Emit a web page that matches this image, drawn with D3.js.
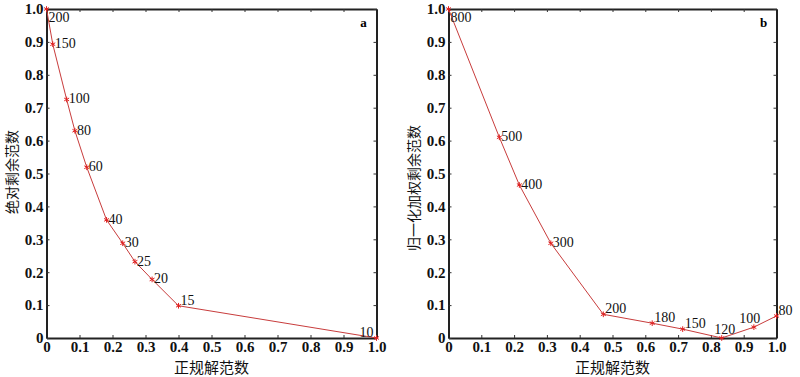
<!DOCTYPE html>
<html lang="zh">
<head>
<meta charset="utf-8">
<title>L-curve</title>
<script src="https://d3js.org/d3.v7.min.js"></script>
<style>
  body { margin: 0; background: #fff; }
</style>
</head>
<body>
<div id="chart"></div>
<script>
// panel a: 绝对剩余范数 vs 正规解范数
const aX = [0, 0.019, 0.061, 0.086, 0.122, 0.182, 0.231, 0.268, 0.32, 0.40, 1.0];
const aY = [1.0, 0.893, 0.725, 0.63, 0.519, 0.359, 0.288, 0.232, 0.178, 0.098, 0.0];
const aLabels = ["200", "150", "100", "80", "60", "40", "30", "25", "20", "15", "10"];
const aPlace = ["below", "right", "right", "right", "right", "right", "right", "right", "right", "up", "left"];

// panel b: 归一化加权剩余范数 vs 正规解范数
const bX = [0, 0.155, 0.216, 0.312, 0.472, 0.621, 0.714, 0.833, 0.931, 1.0];
const bY = [1.0, 0.61, 0.465, 0.288, 0.072, 0.045, 0.027, 0.0, 0.033, 0.067];
const bLabels = ["800", "500", "400", "300", "200", "180", "150", "120", "100", "80"];
const bPlace = ["below", "right", "right", "right", "up", "up", "up", "upc", "upl", "up"];

const ticks = [0, 0.1, 0.2, 0.3, 0.4, 0.5, 0.6, 0.7, 0.8, 0.9, 1.0];
const fmt = d => d === 0 ? "0" : d3.format(".1f")(d);

const W = 800, H = 377;
const serif = "'Liberation Serif', 'DejaVu Serif', serif";
const svg = d3.select("#chart").append("svg").attr("width", W).attr("height", H);

function panel(xs, ys, labels, place, left, right, yTitle, yMid, letter) {
  const x = d3.scaleLinear().domain([0, 1]).range([left, right]);
  const y = d3.scaleLinear().domain([0, 1]).range([338, 9]);
  const g = svg.append("g");

  // inward ticks on all four sides
  g.append("g").attr("transform", "translate(0,338)")
    .call(d3.axisBottom(x).tickValues(ticks).tickFormat(fmt).tickSizeInner(-3).tickSizeOuter(0).tickPadding(3));
  g.append("g").attr("transform", `translate(${left},0)`)
    .call(d3.axisLeft(y).tickValues(ticks).tickFormat(fmt).tickSizeInner(-3).tickSizeOuter(0).tickPadding(3));
  g.append("g").attr("transform", "translate(0,9)")
    .call(d3.axisTop(x).tickValues(ticks).tickFormat("").tickSizeInner(-3).tickSizeOuter(0));
  g.append("g").attr("transform", `translate(${right},0)`)
    .call(d3.axisRight(y).tickValues(ticks).tickFormat("").tickSizeInner(-3).tickSizeOuter(0));
  g.selectAll(".domain").attr("stroke", "#222").attr("stroke-width", 2);
  g.selectAll(".tick line").attr("stroke", "#333");
  g.selectAll(".tick text")
    .style("font-family", serif).style("font-weight", "bold").style("font-size", "15px").attr("fill", "#111");

  const pts = xs.map((v, i) => [v, ys[i]]);
  g.append("path").datum(pts)
    .attr("fill", "none").attr("stroke", "#c83c3c").attr("stroke-width", 1)
    .attr("d", d3.line().x(d => x(d[0])).y(d => y(d[1])));

  g.selectAll(".mk").data(pts).join("path")
    .attr("transform", d => `translate(${x(d[0])},${y(d[1])})`)
    .attr("d", d3.symbol(d3.symbolAsterisk, 22))
    .attr("fill", "none").attr("stroke", "#e02020").attr("stroke-width", 1);

  g.selectAll(".pt-label").data(pts).join("text")
    .attr("class", "pt-label")
    .style("font-family", serif).style("font-size", "14px").attr("fill", "#111")
    .attr("x", (d, i) => {
      const p = place[i], px = x(d[0]);
      if (p === "left") return px - 3;
      if (p === "upc") return px + 3;
      if (p === "upl") return px - 4;
      return px + 2;
    })
    .attr("y", (d, i) => {
      const p = place[i], py = y(d[1]);
      if (p === "below") return py + 13;
      if (p === "right") return py + 4;
      if (p === "upc" || p === "upl") return py - 4;
      return py - 1;
    })
    .attr("text-anchor", (d, i) => place[i] === "left" ? "end" : (place[i] === "upc" || place[i] === "upl") ? "middle" : "start")
    .text((d, i) => labels[i]);

  g.append("text")
    .style("font-family", "'Noto Sans CJK SC', sans-serif").style("font-size", "15px").attr("fill", "#111")
    .attr("x", (left + right) / 2).attr("y", 373).attr("text-anchor", "middle").text("正规解范数");
  g.append("text")
    .style("font-family", "'Noto Sans CJK SC', sans-serif").style("font-size", "14px").attr("fill", "#111")
    .attr("transform", `translate(${left - 30},${yMid}) rotate(-90)`)
    .attr("text-anchor", "middle").text(yTitle);
  g.append("text")
    .attr("x", right - 13).attr("y", 27).attr("text-anchor", "middle")
    .style("font-family", serif).style("font-weight", "bold").style("font-size", "13px")
    .text(letter);
}

panel(aX, aY, aLabels, aPlace, 46.5, 376.5, "绝对剩余范数", 172, "a");
panel(bX, bY, bLabels, bPlace, 448.5, 776.5, "归一化加权剩余范数", 188, "b");
</script>
</body>
</html>
